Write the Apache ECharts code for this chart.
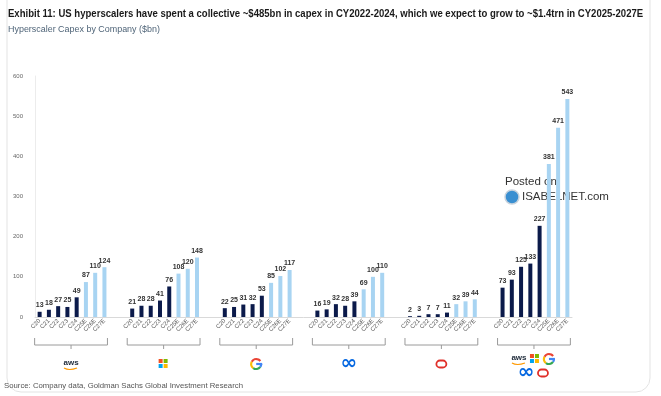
<!DOCTYPE html>
<html>
<head>
<meta charset="utf-8">
<script src="https://cdn.jsdelivr.net/npm/echarts@6/dist/echarts.min.js"></script>
<style>
  html, body { margin: 0; padding: 0; background: #fff; }
  #main { width: 661px; height: 396px; }
</style>
</head>
<body>
<div id="main"></div>
<script>
// 年份标签
const years = ['C20', 'C21', 'C22', 'C23', 'C24', 'C25E', 'C26E', 'C27E'];
const companies = ['aws', 'msft', 'google', 'meta', 'oracle', 'total'];
const aws = [13, 18, 27, 25, 49, 87, 110, 124];
const msft = [21, 28, 28, 41, 76, 108, 120, 148];
const google = [22, 25, 31, 32, 53, 85, 102, 117];
const meta = [16, 19, 32, 28, 39, 69, 100, 110];
const oracle = [2, 3, 7, 7, 11, 32, 39, 44];
const total = [73, 93, 125, 133, 227, 381, 471, 543];
const yTicks = [0, 100, 200, 300, 400, 500, 600];

const groups = [aws, msft, google, meta, oracle, total];
const DARK = '#0b1a4a';
const LIGHT = '#a8d4f2';

// 拼出类目轴：每组8根柱，组间空两格
const cats = [];
const values = [];
groups.forEach((arr, g) => {
  arr.forEach((v, i) => {
    cats.push(years[i]);
    values.push({ value: v, itemStyle: { color: i < 5 ? DARK : LIGHT } });
  });
  if (g < groups.length - 1) {
    cats.push('', '');
    values.push('-', '-');
  }
});

const chart = echarts.init(document.getElementById('main'));
const option = {
  animation: false,
  textStyle: { fontFamily: 'Liberation Sans, Arial, sans-serif' },
  grid: { left: 35, right: 89, top: 76, bottom: 79 },
  xAxis: {
    type: 'category',
    data: cats,
    axisTick: { show: false },
    axisLine: { lineStyle: { color: '#d9d9d9', width: 1 } },
    axisLabel: {
      interval: 0,
      rotate: 45,
      fontSize: 6,
      color: '#555',
      margin: 3
    }
  },
  yAxis: {
    type: 'value',
    min: yTicks[0],
    max: yTicks[yTicks.length - 1],
    interval: 100,
    axisLine: { show: true, lineStyle: { color: '#ececec' } },
    axisTick: { show: false },
    splitLine: { show: false },
    axisLabel: { fontSize: 6, color: '#666', margin: 12 }
  },
  series: [
    {
      type: 'bar',
      data: values,
      barWidth: 4,
      label: {
        show: true,
        position: 'top',
        distance: 3,
        fontSize: 7,
        fontWeight: 'bold',
        color: '#333'
      }
    }
  ]
};
chart.setOption(option);

// 括号、logo、标题等装饰
function logo(name, cx, cy) {
  const out = [];
  if (name === 'aws') {
    out.push({ type: 'text', style: { text: 'aws', x: cx, y: cy - 1, align: 'center', verticalAlign: 'middle', fontSize: 8, fontWeight: 'bold', fill: '#232f3e', fontFamily: 'Liberation Sans' } });
    out.push({ type: 'bezierCurve', shape: { x1: cx - 7, y1: cy + 4, x2: cx + 6, y2: cy + 4, cpx1: cx - 2, cpy1: cy + 7 }, style: { stroke: '#ff9900', lineWidth: 1.2, fill: null } });
  } else if (name === 'msft') {
    const s = 4;
    [['#f25022', -1, -1], ['#7fba00', 0, -1], ['#00a4ef', -1, 0], ['#ffb900', 0, 0]].forEach(q => {
      out.push({ type: 'rect', shape: { x: cx + q[1] * (s + 1), y: cy + q[2] * (s + 1), width: s, height: s }, style: { fill: q[0] } });
    });
  } else if (name === 'google') {
    const r = 5;
    const arcs = [
      ['#ea4335', -Math.PI * 0.85, -Math.PI * 0.2],
      ['#fbbc05', Math.PI * 0.7, Math.PI * 1.15],
      ['#34a853', Math.PI * 0.2, Math.PI * 0.7],
      ['#4285f4', 0, Math.PI * 0.2]
    ];
    arcs.forEach(a => {
      out.push({ type: 'arc', shape: { cx: cx, cy: cy, r: r, startAngle: a[1], endAngle: a[2] }, style: { stroke: a[0], lineWidth: 2.2, fill: null } });
    });
    out.push({ type: 'line', shape: { x1: cx, y1: cy, x2: cx + r + 1, y2: cy }, style: { stroke: '#4285f4', lineWidth: 2.2 } });
  } else if (name === 'meta') {
    out.push({ type: 'text', style: { text: '∞', x: cx, y: cy, align: 'center', verticalAlign: 'middle', fontSize: 20, fontWeight: 'bold', fill: '#0668e1', fontFamily: 'DejaVu Sans' } });
  } else if (name === 'oracle') {
    out.push({ type: 'rect', shape: { x: cx - 5, y: cy - 3.5, width: 10, height: 7, r: 3.5 }, style: { stroke: '#e0302a', lineWidth: 1.8, fill: null } });
  }
  return out;
}

function drawDecor() {
  const els = [];
  const bTop = 338, bBot = 345, bTick = 349;
  companies.forEach((c, g) => {
    const x0 = chart.convertToPixel({ xAxisIndex: 0 }, g * 10) - 5;
    const x1 = chart.convertToPixel({ xAxisIndex: 0 }, g * 10 + 7) + 3;
    const xm = (x0 + x1) / 2;
    els.push({
      type: 'polyline',
      shape: { points: [[x0, bTop], [x0, bBot], [x1, bBot], [x1, bTop]] },
      style: { stroke: '#9a9a9a', lineWidth: 1, fill: null }
    });
    els.push({ type: 'line', shape: { x1: xm, y1: bBot, x2: xm, y2: bTick }, style: { stroke: '#9a9a9a', lineWidth: 1 } });
    if (c === 'total') {
      els.push(...logo('aws', xm - 15, 359));
      els.push(...logo('msft', xm + 1, 359));
      els.push(...logo('google', xm + 15, 359));
      els.push(...logo('meta', xm - 8, 373));
      els.push(...logo('oracle', xm + 9, 373));
    } else {
      els.push(...logo(c, xm, 364));
    }
  });

  // 外框
  els.push({ type: 'rect', shape: { x: 7, y: -20, width: 643, height: 412, r: 14 }, style: { stroke: '#e3e3e3', lineWidth: 1, fill: null }, z: -1 });

  // 标题（横向压缩，模拟窄体字）
  els.push({ type: 'text', x: 8, y: 14, scaleX: 0.91, style: { text: 'Exhibit 11: US hyperscalers have spent a collective ~$485bn in capex in CY2022-2024, which we expect to grow to ~$1.4trn in CY2025-2027E', x: 0, y: 0, verticalAlign: 'middle', fontSize: 10.5, fontWeight: 'bold', fill: '#1a1a1a', fontFamily: 'Liberation Sans' } });
  els.push({ type: 'text', x: 8, y: 29, scaleX: 0.94, style: { text: 'Hyperscaler Capex by Company ($bn)', x: 0, y: 0, verticalAlign: 'middle', fontSize: 9.5, fill: '#4f6478', fontFamily: 'Liberation Sans' } });
  els.push({ type: 'text', x: 4, y: 386, scaleX: 0.97, style: { text: 'Source: Company data, Goldman Sachs Global Investment Research', x: 0, y: 0, verticalAlign: 'middle', fontSize: 8, fill: '#555', fontFamily: 'Liberation Sans' } });

  // 水印
  els.push({ type: 'text', style: { text: 'Posted on', x: 505, y: 182, verticalAlign: 'middle', fontSize: 11.5, fill: '#333', fontFamily: 'Liberation Sans' } });
  els.push({ type: 'circle', shape: { cx: 512, cy: 197, r: 7 }, style: { fill: '#3a8fd1', stroke: '#c9d3dd', lineWidth: 1.5 } });
  els.push({ type: 'text', style: { text: 'ISABELNET.com', x: 522, y: 197, verticalAlign: 'middle', fontSize: 11.5, fill: '#333', fontFamily: 'Liberation Sans' } });

  chart.setOption({ graphic: { elements: els } });
}
drawDecor();

window.addEventListener('resize', () => {
  chart.resize();
  drawDecor();
});
</script>
</body>
</html>
